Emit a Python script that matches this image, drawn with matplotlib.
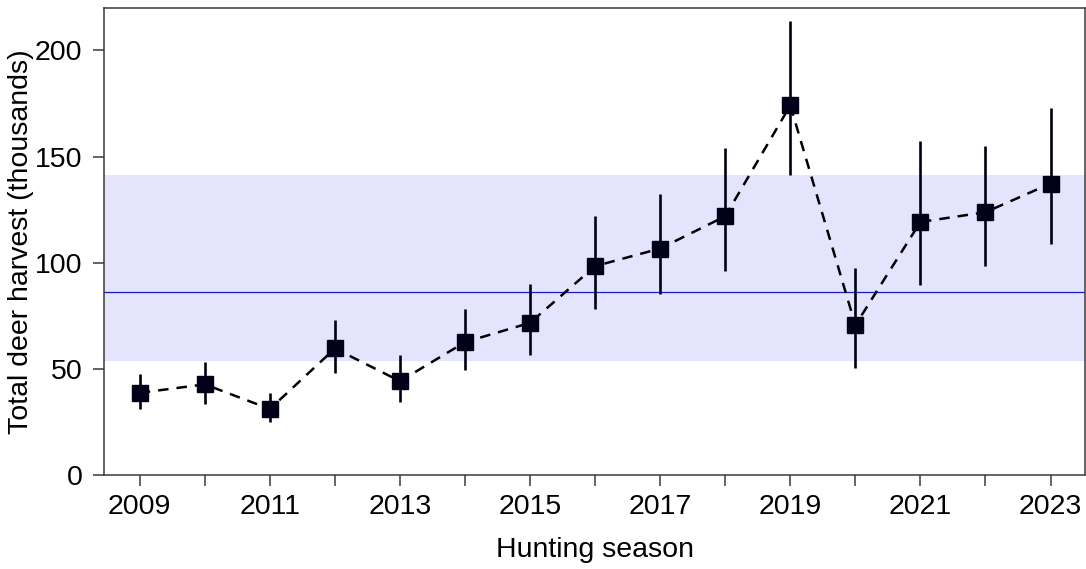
import matplotlib.pyplot as plt
from matplotlib.ticker import MultipleLocator

# Annual deer harvest estimates (thousands) with 95% interval bounds
seasons = [2009, 2010, 2011, 2012, 2013, 2014, 2015, 2016, 2017, 2018, 2019, 2020, 2021, 2022, 2023]
harvest = [38.7, 42.7, 31.1, 59.6, 44.2, 62.6, 71.7, 98.4, 106.7, 121.9, 174.1, 70.6, 119.2, 123.8, 137.3]
lower = [31.1, 33.4, 25.1, 48.2, 34.5, 49.4, 56.5, 78.4, 85.2, 96.0, 141.2, 50.5, 89.4, 98.4, 108.7]
upper = [47.5, 53.0, 38.7, 72.9, 56.3, 78.3, 89.9, 122.2, 132.6, 154.2, 214.1, 97.6, 157.3, 155.1, 172.9]

# Long-term mean and its range band
mean_harvest = 86.3
band_low, band_high = 53.8, 141.2

plt.rcParams["font.family"] = ["Liberation Sans", "DejaVu Sans"]

fig = plt.figure(figsize=(10.86, 5.69), dpi=100)
ax = fig.add_axes([104 / 1086, 94 / 569, 981 / 1086, 467 / 569])

ax.axhspan(band_low, band_high, color="#e4e4fd", lw=0, zorder=0)
ax.axhline(mean_harvest, color="#1a1acc", lw=0.9, zorder=1)

ax.plot(seasons, harvest, color="black", lw=1.8, linestyle=(0, (4.2, 3.2)), zorder=2)
ax.vlines(seasons, lower, upper, color="#000010", lw=1.9, zorder=3)
ax.plot(seasons, harvest, linestyle="none", marker="s", markersize=12,
        color="#000018", zorder=4)

ax.set_xlim(2008.45, 2023.53)
ax.set_ylim(0, 220)
ax.xaxis.set_minor_locator(MultipleLocator(1))
ax.set_xticks(range(2009, 2024, 2))
ax.yaxis.set_major_locator(MultipleLocator(50))

for side in ["left", "bottom", "top", "right"]:
    ax.spines[side].set_color("#3a3a3a")
    ax.spines[side].set_linewidth(1.1)

ax.tick_params(axis="both", which="both", length=8, width=1.1, color="#3a3a3a",
               labelsize=20.5)
ax.tick_params(axis="y", pad=7.5)
ax.tick_params(axis="x", pad=6)

ax.set_xlabel("Hunting season", fontsize=20.5, labelpad=12)
ax.set_ylabel("Total deer harvest (thousands)", fontsize=20.5)
ax.yaxis.set_label_coords(-0.071, 0.5)

fig.savefig("out.png", dpi=100)
